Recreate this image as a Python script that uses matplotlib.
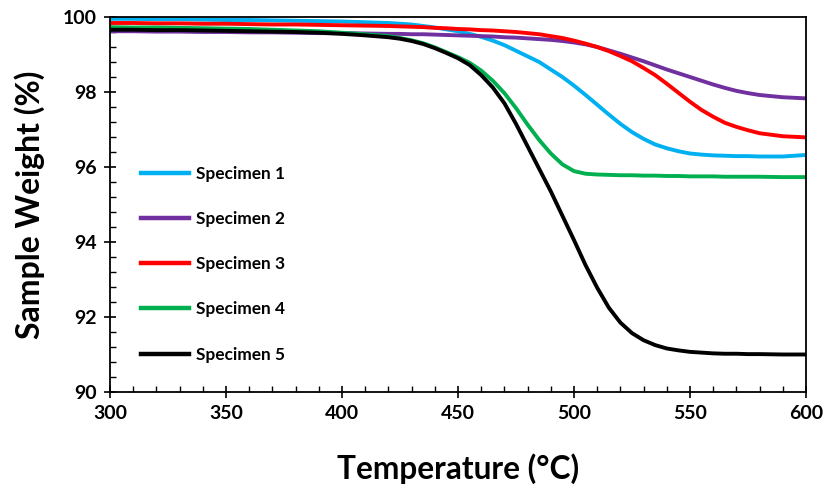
import numpy as np
import matplotlib
matplotlib.use('Agg')
import matplotlib.pyplot as plt
from matplotlib.ticker import MultipleLocator

matplotlib.rcParams['font.family'] = ['Lato', 'DejaVu Sans']
matplotlib.rcParams['font.weight'] = 'bold'

# Temperature grid (°C): 10 °C steps on the flat parts, 5 °C steps through the weight loss
temperature = [300, 310, 320, 330, 340, 350, 360, 370, 380, 390, 400, 410,
               420, 425, 430, 435, 440, 445, 450, 455, 460, 465, 470, 475,
               480, 485, 490, 495, 500, 505, 510, 515, 520, 525, 530, 535,
               540, 545, 550, 555, 560, 565, 570, 575, 580, 590, 600]

# Sample weight (%)
specimen_1 = [99.95, 99.95, 99.94, 99.94, 99.93, 99.92, 99.92, 99.91, 99.90, 99.89, 99.88, 99.86,
              99.84, 99.82, 99.80, 99.76, 99.72, 99.67, 99.62, 99.55, 99.47, 99.37, 99.25, 99.10,
              98.95, 98.80, 98.60, 98.40, 98.17, 97.92, 97.66, 97.40, 97.15, 96.93, 96.75, 96.60,
              96.50, 96.42, 96.36, 96.33, 96.31, 96.30, 96.29, 96.29, 96.28, 96.28, 96.32]
specimen_2 = [99.62, 99.62, 99.61, 99.61, 99.60, 99.60, 99.59, 99.59, 99.58, 99.57, 99.57, 99.56,
              99.55, 99.55, 99.54, 99.54, 99.53, 99.52, 99.51, 99.50, 99.49, 99.48, 99.46, 99.45,
              99.43, 99.41, 99.39, 99.36, 99.32, 99.27, 99.20, 99.11, 99.02, 98.92, 98.82, 98.71,
              98.60, 98.50, 98.40, 98.30, 98.20, 98.11, 98.03, 97.97, 97.92, 97.86, 97.83]
specimen_3 = [99.84, 99.84, 99.83, 99.83, 99.82, 99.82, 99.81, 99.80, 99.80, 99.79, 99.78, 99.77,
              99.76, 99.75, 99.74, 99.73, 99.71, 99.70, 99.68, 99.67, 99.65, 99.64, 99.62, 99.60,
              99.57, 99.54, 99.49, 99.44, 99.37, 99.29, 99.20, 99.09, 98.96, 98.82, 98.64, 98.45,
              98.22, 97.98, 97.74, 97.52, 97.34, 97.18, 97.07, 96.98, 96.90, 96.82, 96.79]
specimen_4 = [99.73, 99.72, 99.72, 99.71, 99.70, 99.69, 99.68, 99.66, 99.64, 99.62, 99.58, 99.54,
              99.49, 99.44, 99.38, 99.30, 99.19, 99.06, 98.93, 98.78, 98.57, 98.30, 97.97, 97.57,
              97.13, 96.72, 96.36, 96.07, 95.89, 95.82, 95.80, 95.79, 95.78, 95.78, 95.77, 95.77,
              95.76, 95.76, 95.75, 95.75, 95.75, 95.74, 95.74, 95.74, 95.74, 95.73, 95.73]
specimen_5 = [99.66, 99.66, 99.65, 99.65, 99.64, 99.63, 99.62, 99.61, 99.60, 99.58, 99.55, 99.51,
              99.46, 99.42, 99.36, 99.28, 99.17, 99.04, 98.90, 98.72, 98.45, 98.12, 97.70, 97.15,
              96.55, 95.95, 95.35, 94.70, 94.05, 93.38, 92.78, 92.25, 91.85, 91.57, 91.38, 91.25,
              91.16, 91.11, 91.07, 91.05, 91.03, 91.02, 91.02, 91.01, 91.01, 91.00, 91.00]

labels = ['Specimen 1', 'Specimen 2', 'Specimen 3', 'Specimen 4', 'Specimen 5']
colors = ['#00B0F0', '#7030A0', '#FF0000', '#00B050', '#000000']
series = [specimen_1, specimen_2, specimen_3, specimen_4, specimen_5]

fig = plt.figure(figsize=(8.28, 4.87), dpi=100)
ax = fig.add_axes([0.1329, 0.1951, 0.8405, 0.7700])

for vals, lab, col in zip(series, labels, colors):
    ax.plot(temperature, vals, color=col, lw=2.8, label=lab, solid_joinstyle='round')

ax.set_xlim(300, 600)
ax.set_ylim(90, 100)
ax.xaxis.set_major_locator(MultipleLocator(50))
ax.xaxis.set_minor_locator(MultipleLocator(10))
ax.yaxis.set_major_locator(MultipleLocator(2))
ax.yaxis.set_minor_locator(MultipleLocator(0.4))
ax.tick_params(which='major', direction='inout', length=9, width=1.2, labelsize=14, pad=5)
ax.tick_params(which='minor', direction='in', length=4, width=1.0)
for lbl in ax.get_xticklabels() + ax.get_yticklabels():
    lbl.set_fontweight('bold')
for s in ax.spines.values():
    s.set_linewidth(1.3)

ax.set_xlabel('Temperature (\u00b0C)', fontsize=22.8, fontweight='bold', labelpad=22)
ax.set_ylabel('Sample Weight (%)', fontsize=23, fontweight='bold', labelpad=13)

leg = ax.legend(loc='upper left', bbox_to_anchor=(0.022, 0.645), frameon=False,
                handlelength=2.8, handletextpad=0.4, labelspacing=1.7,
                prop={'weight': 'bold', 'size': 12.4})
for line in leg.get_lines():
    line.set_linewidth(3.2)

plt.savefig('out.png', dpi=100)
plt.close()
